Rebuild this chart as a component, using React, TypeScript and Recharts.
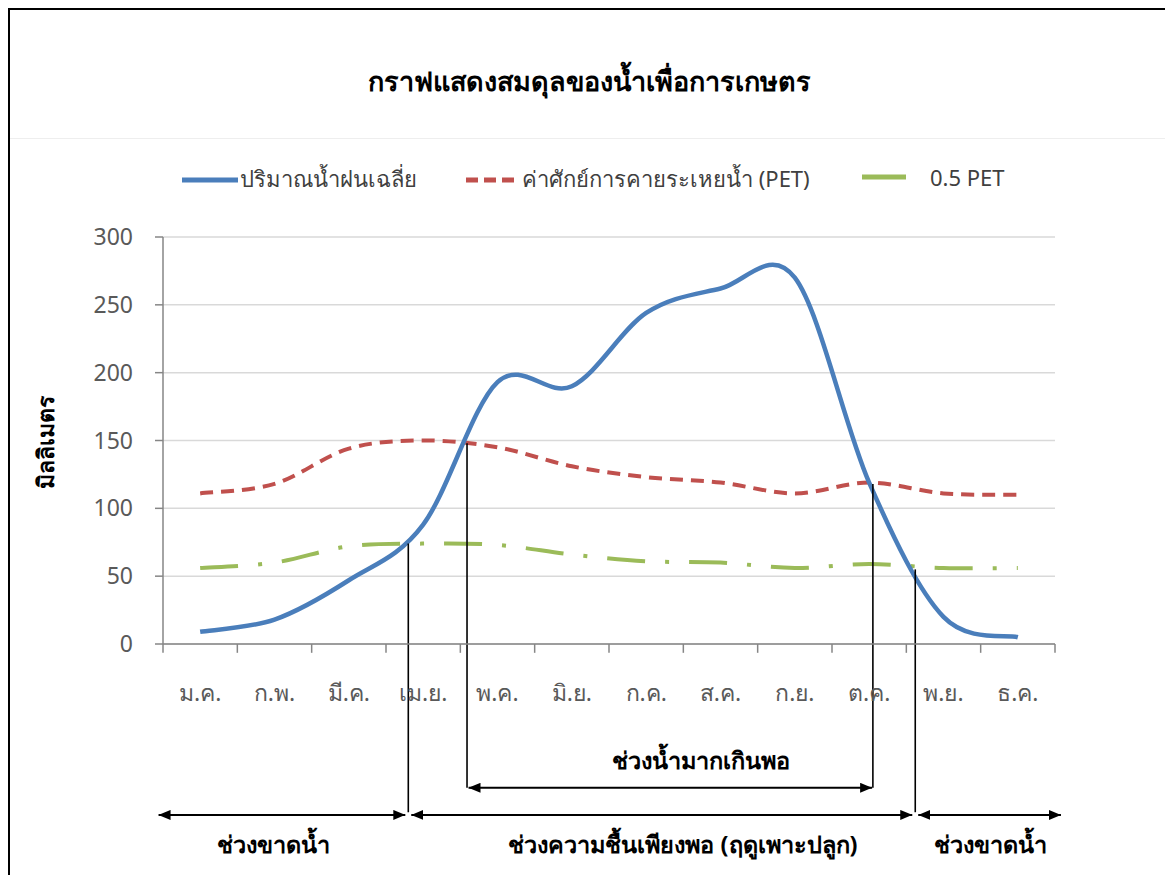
import React from 'react';
import { ComposedChart, Line, XAxis, YAxis, CartesianGrid, ReferenceLine } from 'recharts';

const months = ['ม.ค.', 'ก.พ.', 'มี.ค.', 'เม.ย.', 'พ.ค.', 'มิ.ย.', 'ก.ค.', 'ส.ค.', 'ก.ย.', 'ต.ค.', 'พ.ย.', 'ธ.ค.'];
const rainfall = [9, 18, 47, 88, 193, 190, 244, 262, 270, 119, 20, 5];
const pet = [111, 118, 144, 150, 145, 131, 123, 119, 111, 119, 111, 110];
const halfPet = [56, 60, 72, 74, 73, 66, 61, 60, 56, 59, 56, 56];
const yTicks = [0, 50, 100, 150, 200, 250, 300];
const monthIdx = [0, 1, 2, 3, 4, 5, 6, 7, 8, 9, 10, 11];
const monthEdges = [-0.5, 0.5, 1.5, 2.5, 3.5, 4.5, 5.5, 6.5, 7.5, 8.5, 9.5, 10.5, 11.5];

// annotation lines under the chart, in month-index / mm units
const dropLines = [
  { x: 2.8, top: 74, bottom: -124 },
  { x: 3.59, top: 148, bottom: -106 },
  { x: 9.05, top: 118, bottom: -106 },
  { x: 9.62, top: 55, bottom: -124 },
];
const spans = [
  { x1: -0.56, x2: 2.76, y: -126 },
  { x1: 2.84, x2: 9.58, y: -126 },
  { x1: 9.66, x2: 11.58, y: -126 },
  { x1: 3.61, x2: 9.04, y: -106 },
];

const title = 'กราฟแสดงสมดุลของน้ำเพื่อการเกษตร';
const yLabel = 'มิลลิเมตร';
const seriesNames = ['ปริมาณน้ำฝนเฉลี่ย', 'ค่าศักย์การคายระเหยน้ำ (PET)', '0.5 PET'];

const data = monthIdx.map((i) => ({ idx: i, rain: rainfall[i], pet: pet[i], half: halfPet[i] }));

const FONT = '"Noto Sans", "DejaVu Sans", sans-serif';
const BLUE = '#4A7EBB';
const RED = '#C0504D';
const GREEN = '#9BBB59';
const AXIS = '#868686';

// Excel-like smoothed line (Catmull-Rom through the points)
const smooth = (context: any) => {
  let pts: number[][] = [];
  return {
    areaStart() {},
    areaEnd() {},
    lineStart() { pts = []; },
    point(x: number, y: number) { pts.push([+x, +y]); },
    lineEnd() {
      const n = pts.length;
      if (!n) return;
      context.moveTo(pts[0][0], pts[0][1]);
      for (let i = 0; i < n - 1; i++) {
        const p0 = pts[i - 1] || pts[i];
        const p1 = pts[i];
        const p2 = pts[i + 1];
        const p3 = pts[i + 2] || p2;
        const k = 1 / 6;
        context.bezierCurveTo(
          p1[0] + (p2[0] - p0[0]) * k, p1[1] + (p2[1] - p0[1]) * k,
          p2[0] - (p3[0] - p1[0]) * k, p2[1] - (p3[1] - p1[1]) * k,
          p2[0], p2[1]);
      }
    },
  };
};

const ArrowLine = (p: any) => (
  <line x1={p.x1} y1={p.y1} x2={p.x2} y2={p.y2} stroke="#000" strokeWidth={2}
    markerStart="url(#arrowHead)" markerEnd="url(#arrowHead)" />
);
const PlainLine = (p: any) => (
  <line x1={p.x1} y1={p.y1} x2={p.x2} y2={p.y2} stroke="#000" strokeWidth={1.6} />
);
const TickMark = (p: any) => (
  <line x1={p.x1} y1={p.y1} x2={p.x2} y2={p.y2} stroke={AXIS} strokeWidth={1.5} />
);

const legendItems = [
  { name: seriesNames[0], color: BLUE, dash: undefined, left: 172, sw: 56, gap: 2 },
  { name: seriesNames[1], color: RED, dash: '12 6', left: 456, sw: 54, gap: 2 },
  { name: seriesNames[2], color: GREEN, dash: undefined, left: 852, sw: 44, gap: 24 },
];

const textLabel = (s: string, left: number, top: number) => (
  <div style={{ position: 'absolute', left, top, transform: 'translateX(-50%)', fontSize: 23.5, fontWeight: 700, color: '#000', whiteSpace: 'nowrap' }}>{s}</div>
);

export default function App() {
  return (
    <div style={{ position: 'relative', width: 1163, height: 867, border: '2px solid #000', borderBottom: 'none', boxSizing: 'border-box', fontFamily: FONT, background: '#fff', overflow: 'hidden' }}>
      <svg width={0} height={0} style={{ position: 'absolute' }}>
        <defs>
          <marker id="arrowHead" viewBox="0 0 12 10" refX={12} refY={5} markerWidth={12} markerHeight={10}
            markerUnits="userSpaceOnUse" orient="auto-start-reverse">
            <path d="M0,0 L12,5 L0,10 z" fill="#000" />
          </marker>
        </defs>
      </svg>
      <div style={{ position: 'absolute', left: 0, right: 0, top: 50, textAlign: 'center', fontSize: 27, fontWeight: 700, color: '#000' }}>{title}</div>
      <div style={{ position: 'absolute', left: 0, right: 0, top: 128, height: 1, background: '#eeeeee' }} />
      {legendItems.map((it) => (
        <div key={it.name} style={{ position: 'absolute', left: it.left, top: 152, display: 'flex', alignItems: 'center', fontSize: 22, color: '#404040' }}>
          <svg width={it.sw} height={8} style={{ marginRight: it.gap }}>
            <line x1={0} y1={4} x2={it.sw} y2={4} stroke={it.color} strokeWidth={5} strokeDasharray={it.dash} />
          </svg>
          <span>{it.name}</span>
        </div>
      ))}
      <div style={{ position: 'absolute', left: 36, top: 432, transform: 'translate(-50%, -50%) rotate(-90deg)', fontSize: 23, fontWeight: 700, color: '#000', whiteSpace: 'nowrap' }}>{yLabel}</div>
      <div style={{ position: 'absolute', left: 0, top: 0 }}>
        <ComposedChart width={1150} height={857} data={data} margin={{ top: 227, right: 105, left: 93, bottom: 193 }}>
          <CartesianGrid vertical={false} stroke="#d9d9d9" strokeWidth={1.5} />
          <XAxis dataKey="idx" type="number" domain={[-0.5, 11.5]} allowDataOverflow ticks={monthIdx} interval={0}
            tickFormatter={(v: number) => months[v] ?? ''} height={30} tickLine={false}
            axisLine={{ stroke: AXIS, strokeWidth: 1.5 }} tickSize={8} tickMargin={33}
            tick={{ fontSize: 23, fill: '#595959', fontFamily: FONT }} />
          <YAxis domain={[0, 300]} ticks={yTicks} allowDataOverflow width={60} tickSize={8} tickMargin={22}
            axisLine={{ stroke: AXIS, strokeWidth: 1.5 }} tickLine={{ stroke: AXIS, strokeWidth: 1.5 }}
            tick={{ fontSize: 23, fill: '#595959', fontFamily: FONT }} />
          {monthEdges.map((e) => (
            <ReferenceLine key={'t' + e} ifOverflow="visible" segment={[{ x: e, y: 0 }, { x: e, y: -6.5 }]} shape={TickMark} />
          ))}
          <Line type={smooth as any} dataKey="half" stroke={GREEN} strokeWidth={4} strokeDasharray="38 20 4 20"
            dot={false} isAnimationActive={false} />
          <Line type={smooth as any} dataKey="pet" stroke={RED} strokeWidth={4} strokeDasharray="13 8"
            dot={false} isAnimationActive={false} />
          <Line type={smooth as any} dataKey="rain" stroke={BLUE} strokeWidth={4.5}
            dot={false} isAnimationActive={false} />
          {dropLines.map((d, i) => (
            <ReferenceLine key={'d' + i} ifOverflow="visible"
              segment={[{ x: d.x, y: d.top }, { x: d.x, y: d.bottom }]} shape={PlainLine} />
          ))}
          {spans.map((s, i) => (
            <ReferenceLine key={'s' + i} ifOverflow="visible"
              segment={[{ x: s.x1, y: s.y }, { x: s.x2, y: s.y }]} shape={ArrowLine} />
          ))}
        </ComposedChart>
      </div>
      {textLabel('ช่วงน้ำมากเกินพอ', 691, 732)}
      {textLabel('ช่วงขาดน้ำ', 263, 816)}
      {textLabel('ช่วงความชื้นเพียงพอ (ฤดูเพาะปลูก)', 673, 816)}
      {textLabel('ช่วงขาดน้ำ', 980, 816)}
    </div>
  );
}
